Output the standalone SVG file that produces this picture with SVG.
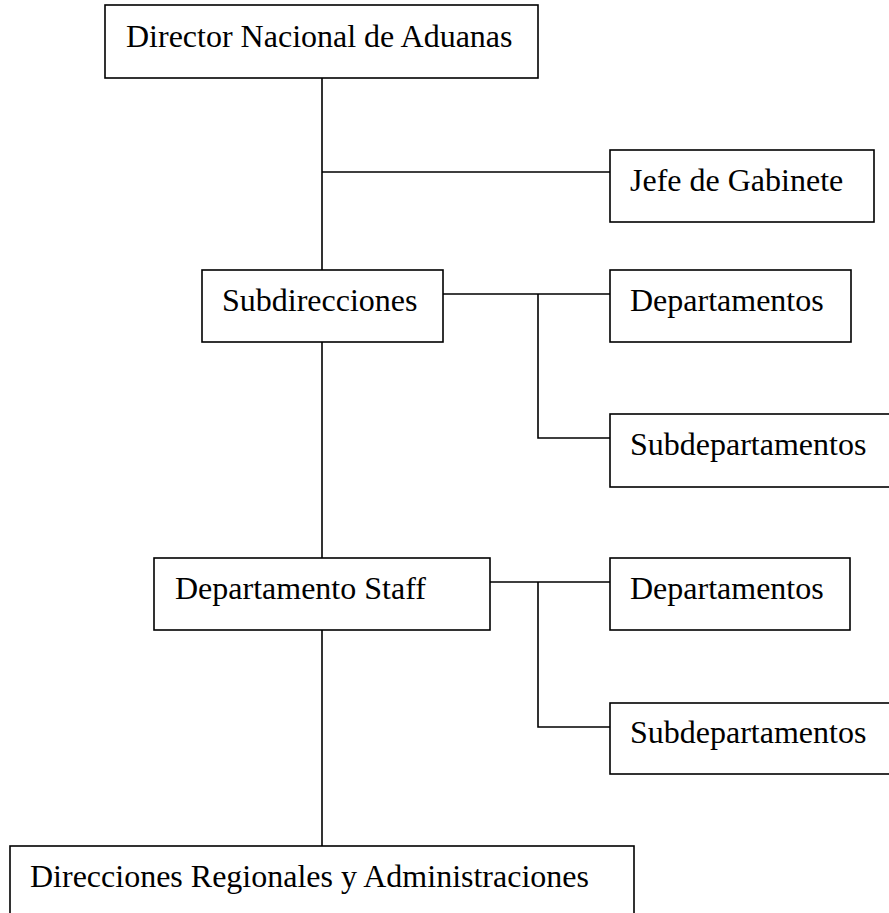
<svg xmlns="http://www.w3.org/2000/svg" width="889" height="913" viewBox="0 0 889 913">
<style>
.box{fill:#fff;stroke:#000;stroke-width:1.6}
.ln{fill:none;stroke:#000;stroke-width:1.6}
text{font-family:"Liberation Serif","Times New Roman",serif;font-size:32px;fill:#000}
</style>
<rect width="889" height="913" fill="#fff"/>
<g id="connectors">
<path class="ln" d="M322 78V270M322 172H610"/>
<path class="ln" d="M322 342V558"/>
<path class="ln" d="M443 294H610M538 294V438H610"/>
<path class="ln" d="M322 630V846"/>
<path class="ln" d="M490 582H610M538 582V727H610"/>
</g>
<g id="director"><rect class="box" x="105" y="5" width="433" height="73"/><text x="126" y="47">Director Nacional de Aduanas</text></g>
<g id="jefe"><rect class="box" x="610" y="150" width="264" height="72"/><text x="630" y="191">Jefe de Gabinete</text></g>
<g id="subdirecciones"><rect class="box" x="202" y="270" width="241" height="72"/><text x="222" y="311">Subdirecciones</text></g>
<g id="departamentos1"><rect class="box" x="610" y="270" width="241" height="72"/><text x="630" y="311">Departamentos</text></g>
<g id="subdepartamentos1"><rect class="box" x="610" y="414" width="285" height="73"/><text x="630" y="455">Subdepartamentos</text></g>
<g id="staff"><rect class="box" x="154" y="558" width="336" height="72"/><text x="175" y="599">Departamento Staff</text></g>
<g id="departamentos2"><rect class="box" x="610" y="558" width="240" height="72"/><text x="630" y="599">Departamentos</text></g>
<g id="subdepartamentos2"><rect class="box" x="610" y="703" width="285" height="71"/><text x="630" y="743">Subdepartamentos</text></g>
<g id="direcciones"><rect class="box" x="10" y="846" width="624" height="80"/><text x="30" y="887">Direcciones Regionales y Administraciones</text></g>
</svg>
